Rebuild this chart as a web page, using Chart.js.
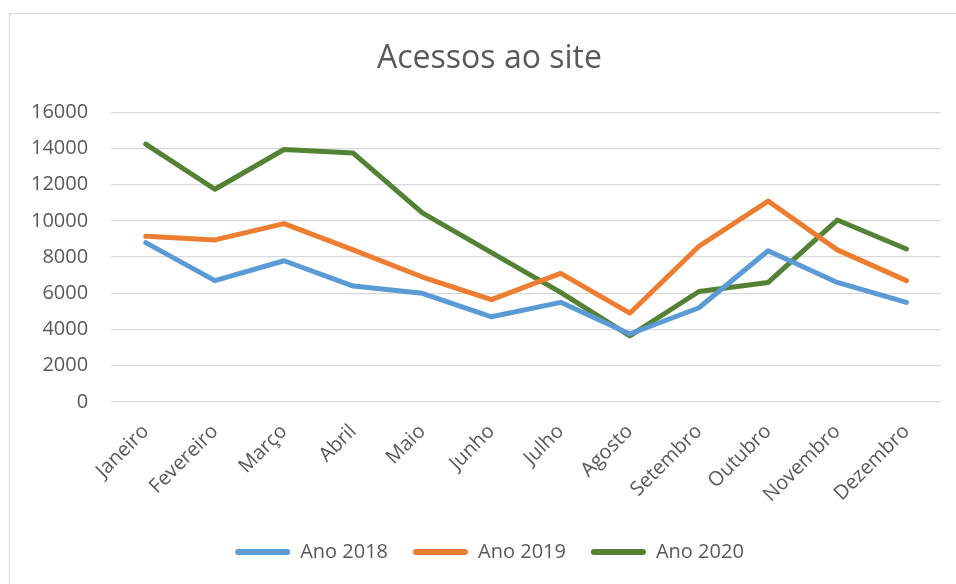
<html lang="pt">

<head>
  <meta charset="UTF-8">
  <title>Acessos ao site</title>
  <script src="https://cdn.jsdelivr.net/npm/chart.js"></script>
  <style>
    body { margin: 0; background: #fff; overflow: hidden; }
    .frame {
      position: absolute; left: 9px; top: 13px;
      width: 1000px; height: 1000px;
      border: 1px solid #d9d9d9;
    }
    #acessosChart { position: absolute; left: 0; top: 0; }
  </style>
</head>

<body>
  <div class="frame"></div>
  <canvas id="acessosChart" width="956" height="584"></canvas>

  <script>
    const months = ["Janeiro", "Fevereiro", "Março", "Abril", "Maio", "Junho",
      "Julho", "Agosto", "Setembro", "Outubro", "Novembro", "Dezembro"];
    const ano2018 = [8800, 6700, 7800, 6400, 6000, 4700, 5500, 3750, 5200, 8350, 6600, 5500];
    const ano2019 = [9150, 8950, 9850, 8400, 6900, 5650, 7100, 4900, 8600, 11100, 8400, 6700];
    const ano2020 = [14250, 11750, 13950, 13750, 10450, 8250, 6050, 3650, 6100, 6600, 10050, 8450];
    const yTicks = [0, 2000, 4000, 6000, 8000, 10000, 12000, 14000, 16000];

    const textColor = "#595959";
    const fontFamily = "'Open Sans', sans-serif";

    function line(label, values, color) {
      return {
        label: label,
        data: values,
        borderColor: color,
        backgroundColor: color,
        borderWidth: 5,
        pointRadius: 0,
        tension: 0,
        borderCapStyle: 'round',
        borderJoinStyle: 'round'
      };
    }

    // title and legend sit a bit right of the canvas centre in the original
    const nudgeBlocks = {
      id: 'nudgeBlocks',
      afterLayout(chart) {
        for (const box of [chart.titleBlock, chart.legend]) {
          if (!box) continue;
          box.left += 15;
          box.right += 15;
        }
      }
    };

    new Chart(document.getElementById("acessosChart"), {
      type: 'line',
      data: {
        labels: months,
        datasets: [
          line("Ano 2018", ano2018, "#5b9bd5"),
          line("Ano 2019", ano2019, "#ed7d31"),
          line("Ano 2020", ano2020, "#548235")
        ]
      },
      options: {
        responsive: false,
        animation: false,
        layout: { padding: { left: 8, right: 15, top: 0, bottom: 12 } },
        plugins: {
          title: {
            display: true,
            text: "Acessos ao site",
            color: textColor,
            font: { family: fontFamily, size: 32, weight: 'normal' },
            padding: { top: 40, bottom: 34 }
          },
          legend: {
            position: 'bottom',
            labels: {
              color: textColor,
              font: { family: fontFamily, size: 20 },
              boxWidth: 55,
              boxHeight: 6,
              useBorderRadius: true,
              borderRadius: 3,
              padding: 25,
              // plain filled bars, no stroke around them
              generateLabels: (chart) =>
                Chart.defaults.plugins.legend.labels.generateLabels(chart)
                  .map(item => ({ ...item, lineWidth: 0 }))
            }
          },
          tooltip: { enabled: false }
        },
        scales: {
          x: {
            offset: true,
            grid: { display: false },
            border: { display: false },
            ticks: {
              color: textColor,
              font: { family: fontFamily, size: 20 },
              minRotation: 45,
              maxRotation: 45,
              padding: 10
            }
          },
          y: {
            min: 0,
            max: 16000,
            afterBuildTicks: (axis) => { axis.ticks = yTicks.map(v => ({ value: v })); },
            grid: { color: "#d9d9d9", lineWidth: 1.3, drawTicks: false },
            border: { display: false },
            ticks: {
              color: textColor,
              font: { family: fontFamily, size: 20 },
              padding: 23,
              callback: (value) => String(value)
            }
          }
        }
      },
      plugins: [nudgeBlocks]
    });
  </script>
</body>
</html>
